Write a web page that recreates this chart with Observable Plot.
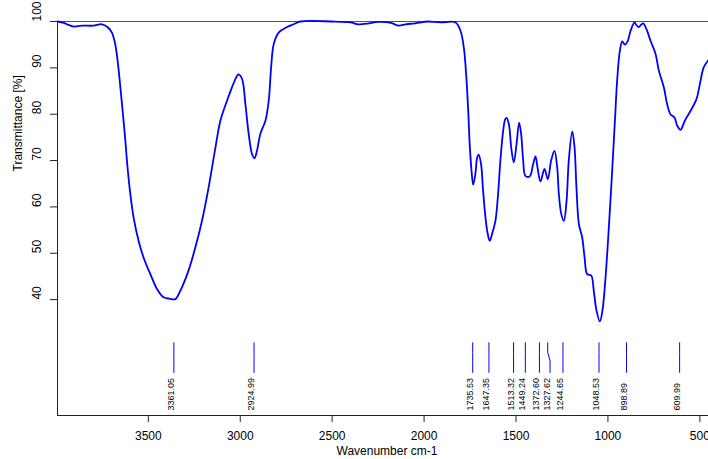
<!DOCTYPE html>
<html>
<head>
<meta charset="utf-8">
<script src="https://cdn.jsdelivr.net/npm/d3@7"></script>
<script src="https://cdn.jsdelivr.net/npm/@observablehq/plot@0.6"></script>
<style>
  body { margin: 0; background: #fff; }
  #chart svg { display: block; }
</style>
</head>
<body>
<div id="chart"></div>
<script>
// ---- Data ----
const wavenumber = [
  3994, 3960, 3930, 3906, 3861, 3798, 3752, 3716, 3698, 3680, 3667, 3652, 3638, 3625, 3613, 3598,
  3580, 3553, 3526, 3489, 3453, 3417, 3385, 3353, 3326, 3281, 3244, 3208, 3172, 3135, 3108, 3072,
  3045, 3017, 3009, 2990, 2972, 2954, 2936, 2923, 2909, 2891, 2863, 2845, 2832, 2818, 2791,
  2745, 2709, 2673, 2500, 2400, 2360, 2300, 2250, 2180, 2138, 2100, 2050, 2000, 1983, 1911, 1829,
  1802, 1784, 1770, 1760, 1752, 1742, 1733, 1721, 1712, 1703, 1690, 1679, 1666, 1654, 1643, 1630,
  1612, 1599, 1585, 1570, 1559, 1552, 1539, 1526, 1512, 1497, 1483, 1472, 1461, 1449, 1425, 1407,
  1394, 1382, 1367, 1345, 1327, 1309, 1291, 1276, 1267, 1254, 1240, 1225, 1213, 1194, 1182, 1171,
  1158, 1140, 1127, 1113, 1091, 1077, 1062, 1044, 1030, 1013, 995, 977, 962, 950, 935, 922,
  908, 892, 877, 855, 845, 832, 820, 808, 790, 768, 741, 723, 696, 678, 660, 638,
  623, 605, 590, 578, 551, 518, 500, 479, 453
];
const transmittance = [
  100.0, 99.7, 99.2, 98.9, 99.1, 99.1, 99.4, 98.6, 97.6, 95.1, 91.5, 85.8, 80.0, 74.3, 68.5, 62.8,
  57.7, 52.7, 49.1, 45.5, 42.3, 40.5, 40.2, 40.1, 41.9, 46.3, 51.3, 57.0, 64.2, 72.8, 78.6, 82.9,
  85.8, 88.3, 88.6, 87.6, 82.2, 75.7, 71.4, 70.5, 72.1, 75.7, 78.6, 82.9, 90.1, 95.1, 97.6,
  98.8, 99.4, 100.0, 100.0, 99.8, 99.4, 99.6, 99.9, 99.7, 99.1, 99.4, 99.6, 99.9, 100.0, 99.8, 99.8,
  98.0, 94.4, 87.9, 80.7, 73.6, 67.8, 64.8, 67.1, 70.5, 71.3, 69.2, 63.5, 57.7, 54.2, 52.7, 54.2,
  57.0, 62.0, 70.0, 76.4, 78.9, 79.2, 77.9, 72.8, 69.6, 73.6, 78.2, 75.7, 70.0, 66.7, 66.6, 69.2,
  70.9, 68.2, 65.5, 68.2, 66.0, 70.0, 72.1, 68.5, 62.8, 58.5, 57.0, 61.3, 70.0, 76.3, 73.0, 64.0,
  56.3, 53.4, 49.1, 45.5, 45.2, 41.9, 37.6, 35.3, 37.6, 44.8, 55.6, 67.8, 78.6, 87.2, 93.7, 95.7,
  95.0, 95.8, 98.0, 99.8, 99.2, 98.8, 99.3, 99.6, 98.3, 95.8, 93.0, 89.4, 85.8, 82.2, 80.0, 79.3,
  77.5, 76.6, 77.8, 78.9, 80.7, 83.3, 86.5, 90.1, 91.7
];

const peakWavenumbers = [3361.05, 2924.99, 1735.53, 1647.35, 1513.32, 1449.24, 1372.60, 1327.62, 1244.65, 1048.53, 898.89, 609.99];
const peakLabels = ["3361.05", "2924.99", "1735.53", "1647.35", "1513.32", "1449.24", "1372.60", "1327.62", "1244.65", "1048.53", "898.89", "609.99"];

const xTicks = [3500, 3000, 2500, 2000, 1500, 1000, 500];
const yTicks = [40, 50, 60, 70, 80, 90, 100];
const xDomain = [3994, 453];
const yDomain = [15, 100];

const xTitle = "Wavenumber cm-1";
const yTitle = "Transmittance [%]";

// ---- Layout ----
const W = 708, H = 459;
const mL = 57, mR = 0, mT = 21, mB = 44;
const blue = "#0000ff";
const font = "'Liberation Sans', Arial, Helvetica, sans-serif";

// leader-line levels (transmittance units) for the peak markers
const leaderTop = 30.7, bendA = 28.6, bendB = 26.8, leaderBottom = 24.3;

const spectrum = wavenumber.map((w, i) => ({w, t: transmittance[i]}));

// dodge peak labels so that they do not overlap
const xs = Plot.scale({x: {domain: xDomain, range: [mL, W - mR]}});
let prev = -Infinity;
const labelW = peakWavenumbers.map(w => {
  let px = xs.apply(w);
  if (px - prev < 10.6) px = prev + 10.6;
  prev = px;
  return xs.invert(px);
});
const peaks = peakWavenumbers.map((w, i) => ({w, lw: labelW[i], label: peakLabels[i]}));
const leaders = peaks.flatMap((p, i) => [
  {i, w: p.w, t: leaderTop},
  {i, w: p.w, t: bendA},
  {i, w: p.lw, t: bendB},
  {i, w: p.lw, t: leaderBottom}
]);

const chart = Plot.plot({
  width: W,
  height: H,
  marginLeft: mL,
  marginRight: mR,
  marginTop: mT,
  marginBottom: mB,
  style: {fontFamily: font, fontSize: "12px", color: "#000", background: "transparent"},
  x: {domain: xDomain},
  y: {domain: yDomain},
  marks: [
    // box lines
    Plot.ruleY([yDomain[1]], {stroke: "#555", strokeWidth: 1}),
    Plot.ruleY([yDomain[0]], {stroke: "#222", strokeWidth: 1}),
    Plot.ruleX([xDomain[0]], {stroke: "#222", strokeWidth: 1}),
    // axes
    Plot.axisX(xTicks, {tickSize: 7, tickPadding: 9, fontSize: 12, label: null, stroke: "#222", tickFormat: d => String(d)}),
    Plot.axisY(yTicks, {tickSize: 7, tickFormat: () => "", label: null, stroke: "#222"}),
    Plot.text(yTicks, {y: d => d, text: d => String(d), frameAnchor: "left", dx: -20, rotate: -90, fontSize: 12}),
    // axis titles
    Plot.text([xTitle], {frameAnchor: "bottom", dx: 4, dy: 39, fontSize: 12}),
    Plot.text([yTitle], {frameAnchor: "left", dx: -39, dy: -47, rotate: -90, fontSize: 12}),
    // peak markers
    Plot.line(leaders, {x: "w", y: "t", z: "i", stroke: blue, strokeWidth: 1}),
    Plot.text(peaks, {x: "lw", text: "label", frameAnchor: "bottom", dy: -5, rotate: -90, textAnchor: "start", fontSize: 9}),
    // spectrum
    Plot.line(spectrum, {x: "w", y: "t", stroke: blue, strokeWidth: 1.8, curve: "catmull-rom"})
  ]
});
document.getElementById("chart").appendChild(chart);
</script>
</body>
</html>
